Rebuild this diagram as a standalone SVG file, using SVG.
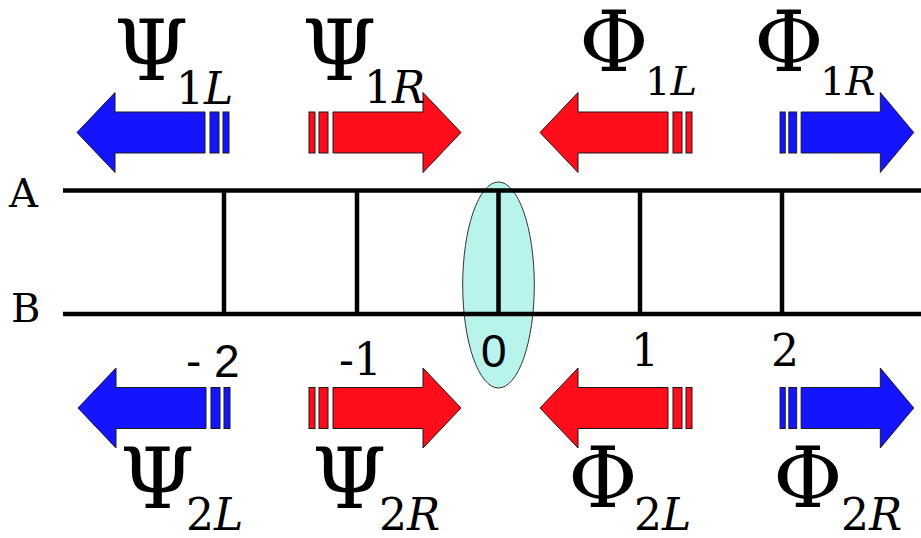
<svg xmlns="http://www.w3.org/2000/svg" xmlns:xlink="http://www.w3.org/1999/xlink" width="921" height="538" viewBox="0 0 921 538">
<style>
.rail{stroke:#000;stroke-width:4.5;fill:none}
.blue{fill:#1414ff}
.red{fill:#ff0d1a}
.arw{stroke:#1a1a1a;stroke-width:1}
.sf{font-family:'DejaVu Serif',serif;fill:#000}
.gk{font-size:85px}
.sub{font-size:44px}
.subs{font-size:40px}
.it{font-style:italic}
.lbl{font-size:40px}
.nr{font-size:44px}
.ns{font-family:'Liberation Sans',Arial,sans-serif;font-size:46px;fill:#000}
</style>
<defs>
<g id="arrowR">
<rect x="0" y="-20.5" width="6" height="41"/>
<rect x="10" y="-20.5" width="9" height="41"/>
<path d="M24,-20.5 H114 V-40 L152,0 L114,40 V20.5 H24 Z"/>
</g>
</defs>
<rect width="921" height="538" fill="#fff"/>

<g id="site0-ellipse">
<ellipse cx="498.5" cy="285" rx="35.8" ry="103" fill="#b9f4ec" stroke="#333" stroke-width="1"/>
</g>

<g id="ladder">
<line class="rail" x1="63" y1="190.5" x2="921" y2="190.5"/>
<line class="rail" x1="63" y1="314" x2="921" y2="314"/>
<line class="rail" x1="224" y1="190.5" x2="224" y2="314"/>
<line class="rail" x1="357" y1="190.5" x2="357" y2="314"/>
<line class="rail" x1="498.5" y1="190.5" x2="498.5" y2="314"/>
<line class="rail" x1="640" y1="190.5" x2="640" y2="314"/>
<line class="rail" x1="782" y1="190.5" x2="782" y2="314"/>
</g>

<g id="label-A"><text class="sf lbl" x="9" y="207">A</text></g>
<g id="label-B"><text class="sf lbl" x="11" y="322">B</text></g>

<g id="num-m2"><text class="ns" x="186" y="377">- 2</text></g>
<g id="num-m1"><text class="sf nr" x="339" y="375">-1</text></g>
<g id="num-0"><text class="ns" x="481" y="367">0</text></g>
<g id="num-1"><text class="sf nr" x="631" y="366">1</text></g>
<g id="num-2"><text class="sf nr" x="771" y="366">2</text></g>

<g id="psi1L">
<use xlink:href="#arrowR" class="blue arw" transform="translate(229,132.5) scale(-1,1)"/>
<text class="sf gk" x="114" y="80">Ψ</text>
<text class="sf sub" x="176" y="104">1<tspan class="it">L</tspan></text>
</g>
<g id="psi1R">
<use xlink:href="#arrowR" class="red arw" transform="translate(309,132.5)"/>
<text class="sf gk" x="302" y="80">Ψ</text>
<text class="sf sub" x="364" y="103">1<tspan class="it">R</tspan></text>
</g>
<g id="phi1L">
<use xlink:href="#arrowR" class="red arw" transform="translate(692,132.5) scale(-1,1)"/>
<text class="sf gk" x="579" y="71">Φ</text>
<text class="sf subs" x="645" y="95">1<tspan class="it">L</tspan></text>
</g>
<g id="phi1R">
<use xlink:href="#arrowR" class="blue arw" transform="translate(780,132.5) scale(0.88,1)"/>
<text class="sf gk" x="754" y="71">Φ</text>
<text class="sf subs" x="820" y="95">1<tspan class="it">R</tspan></text>
</g>

<g id="psi2L">
<use xlink:href="#arrowR" class="blue arw" transform="translate(230,408) scale(-1,1)"/>
<text class="sf gk" x="120" y="508">Ψ</text>
<text class="sf sub" x="186" y="530">2<tspan class="it">L</tspan></text>
</g>
<g id="psi2R">
<use xlink:href="#arrowR" class="red arw" transform="translate(309,408)"/>
<text class="sf gk" x="312" y="508">Ψ</text>
<text class="sf sub" x="379" y="530">2<tspan class="it">R</tspan></text>
</g>
<g id="phi2L">
<use xlink:href="#arrowR" class="red arw" transform="translate(692,408) scale(-1,1)"/>
<text class="sf gk" x="568" y="507">Φ</text>
<text class="sf sub" x="634" y="530">2<tspan class="it">L</tspan></text>
</g>
<g id="phi2R">
<use xlink:href="#arrowR" class="blue arw" transform="translate(780,408) scale(0.88,1)"/>
<text class="sf gk" x="773" y="507">Φ</text>
<text class="sf sub" x="841" y="530">2<tspan class="it">R</tspan></text>
</g>
</svg>
